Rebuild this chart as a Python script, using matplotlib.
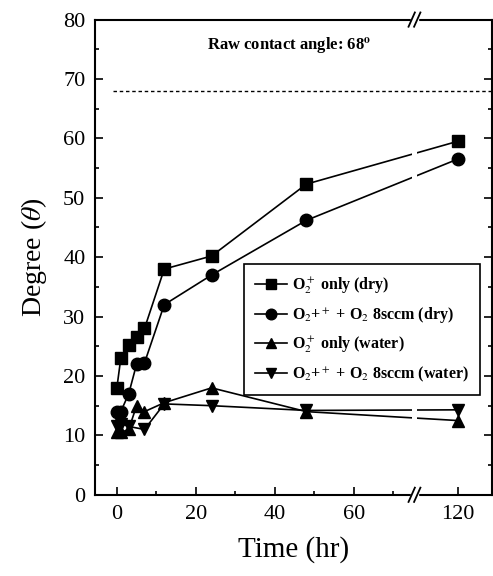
import matplotlib
matplotlib.use("Agg")
import matplotlib.pyplot as plt
import numpy as np
from matplotlib.ticker import FixedLocator, MultipleLocator

plt.rcParams['font.family'] = ['Liberation Serif', 'DejaVu Serif']
plt.rcParams['mathtext.fontset'] = 'stix'

# data (time in hr, angle in degree)
t_sq = [0, 1, 3, 5, 7, 12, 24, 48, 120]
dry_o2 = [18, 23, 25.2, 26.5, 28, 38, 40.2, 52.3, 59.5]

t_ci = [0, 1, 3, 5, 7, 12, 24, 48, 120]
dry_mix = [14, 14, 17, 22, 22.2, 32, 37, 46.2, 56.5]

t_up = [0, 1, 3, 5, 7, 12, 24, 48, 120]
wet_o2 = [10.5, 10.5, 11, 15, 14, 15.5, 18, 14, 12.5]

t_dn = [0, 1, 3, 7, 12, 24, 48, 120]
wet_mix = [11.5, 12, 11.5, 11, 15.3, 15, 14.2, 14.3]

raw_angle = 68

x_ticks = [0, 20, 40, 60, 120]
x_minor = [10, 30, 50, 70]

# broken time axis: 70..114 hr squeezed
brk_in = [-20, 70, 114, 200]
brk_out = [-20, 70, 80.3, 166.3]


def fwd(x):
    return np.interp(x, brk_in, brk_out)


def inv(x):
    return np.interp(x, brk_out, brk_in)


fig = plt.figure(figsize=(4.93, 5.76), dpi=100)
ax = fig.add_axes([0.193, 0.141, 0.804, 0.825])
ax.set_xscale('function', functions=(fwd, inv))

ax.plot(t_sq, dry_o2, '-', color='black', lw=1.2, marker='s', ms=8,
        label=r'O$_2^+$ only (dry)')
ax.plot(t_ci, dry_mix, '-', color='black', lw=1.2, marker='o', ms=9,
        label=r'O$_2$+$^+$ + O$_2$ 8sccm (dry)')
ax.plot(t_up, wet_o2, '-', color='black', lw=1.2, marker='^', ms=9,
        label=r'O$_2^+$ only (water)')
ax.plot(t_dn, wet_mix, '-', color='black', lw=1.2, marker='v', ms=9,
        label=r'O$_2$+$^+$ + O$_2$ 8sccm (water)')

ax.axhline(raw_angle, xmin=0.045, color='black', lw=1.0, ls=(0, (2.5, 2)), zorder=3)
ax.text(0.49, 75.7, r'Raw contact angle: 68$^\mathbf{o}$', transform=ax.get_yaxis_transform(),
        ha='center', va='center', fontsize=12, fontweight='bold')

ax.set_xlim(-5.5, 128.6)
ax.set_ylim(0, 80)
ax.xaxis.set_major_locator(FixedLocator(x_ticks))
ax.xaxis.set_minor_locator(FixedLocator(x_minor))
ax.yaxis.set_major_locator(MultipleLocator(10))
ax.yaxis.set_minor_locator(MultipleLocator(5))
ax.tick_params(which='both', direction='in', right=True, labelsize=16, width=1.2)
ax.tick_params(which='major', length=6, pad=7)
ax.tick_params(which='minor', length=3)
for s in ax.spines.values():
    s.set_linewidth(1.5)

ax.set_xlabel('Time (hr)', fontsize=21, labelpad=9)
ax.set_ylabel(r'Degree ($\theta$)', fontsize=20, labelpad=10)

# gap in the lines where the axis is broken
ax.axvspan(90, 96, color='white', zorder=2.2, lw=0)

# break marks on top and bottom spines
xb = ax.transAxes.inverted().transform(ax.transData.transform((93, 0)))[0]
for yb in (0, 1):
    ax.add_patch(plt.Rectangle((xb - 0.008, yb - 0.01), 0.016, 0.02, transform=ax.transAxes,
                               color='white', clip_on=False, zorder=4))
    for dx in (-0.007, 0.007):
        ax.plot([xb + dx - 0.008, xb + dx + 0.008], [yb - 0.015, yb + 0.015],
                transform=ax.transAxes, color='black', lw=1.3, clip_on=False, zorder=5)

leg = ax.legend(loc='upper right', bbox_to_anchor=(0.99, 0.502),
                prop={'size': 11.5, 'weight': 'bold'},
                frameon=True, fancybox=False, edgecolor='black', framealpha=1,
                handlelength=2.0, labelspacing=0.6, borderpad=0.7, handletextpad=0.3,
                markerscale=0.85)
leg.get_frame().set_linewidth(1.2)

fig.savefig('out.png', dpi=100)
